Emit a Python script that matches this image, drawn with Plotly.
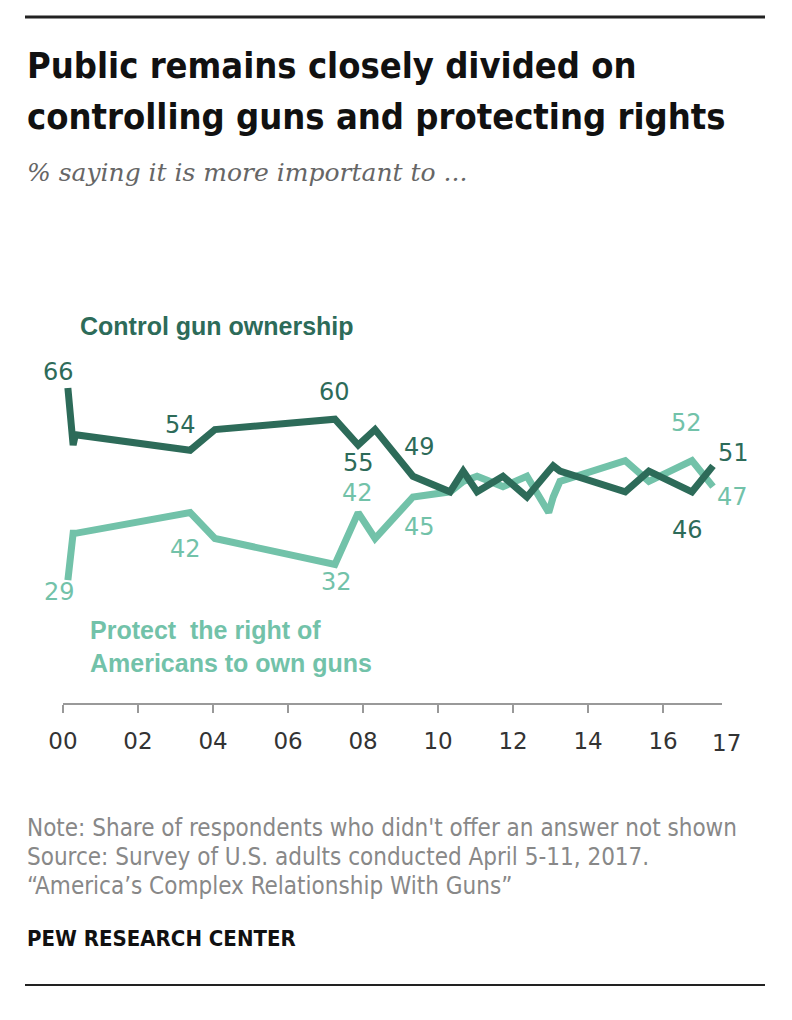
import plotly.graph_objects as go

# survey dates as years since 2000
years = [0.13, 0.27, 0.33, 3.39, 4.05, 7.25, 7.87, 8.32, 9.33, 10.32, 10.67,
         11.04, 11.73, 12.37, 12.95, 13.07, 13.25, 14.99, 15.62, 16.77, 17.33]
control = [66, 55, 57, 54, 58, 60, 55, 58, 49, 46, 50,
           46, 49, 45, 50, 51, 50, 46, 50, 46, 51]
protect = [29, 38, 38, 42, 37, 32, 42, 37, 45, 46, 48,
           49, 47, 49, 42, 45, 48, 52, 48, 52, 47]

tick_years = [0, 2, 4, 6, 8, 10, 12, 14, 16]
tick_labels = ["00", "02", "04", "06", "08", "10", "12", "14", "16"]
last_year, last_label = 17.55, "17"

# which points carry a value label
labeled = [0, 3, 5, 6, 8, 19, 20]

DARK = "#2d6b59"
LIGHT = "#72c2a9"

OFF = 8                      # page body margin
W, H = 792 - 2 * OFF, 1020 - 2 * OFF
L, R, T, B = 63, 722, 250, 703   # plot area in screen pixels


def px(x, y):
    # screen pixel position -> paper coords
    return (x - L) / (R - L), (B - y) / (B - T)


fig = go.Figure()

fig.add_trace(go.Scatter(x=years, y=protect, mode="lines",
                         line=dict(color=LIGHT, width=7), hoverinfo="skip"))
fig.add_trace(go.Scatter(x=years, y=control, mode="lines",
                         line=dict(color=DARK, width=7), hoverinfo="skip"))

annotations = []
NUMFONT = "DejaVu Sans, Verdana, sans-serif"

# value labels (offsets in pixels from the point)
dark_off = {0: (-9, 16), 3: (-10, 25), 5: (0, 27), 6: (0, -18), 8: (7, 29), 19: (-4, -38), 20: (20, 13)}
light_off = {0: (-8, -12), 3: (-5, -36), 5: (2, -18), 6: (-1, 20), 8: (7, -30), 19: (-5, 38), 20: (19, -10)}
for i in labeled:
    annotations.append(dict(x=years[i], y=control[i], xref="x", yref="y", text=str(control[i]),
                            showarrow=False, xshift=dark_off[i][0], yshift=dark_off[i][1],
                            font=dict(family=NUMFONT, size=24, color=DARK)))
    annotations.append(dict(x=years[i], y=protect[i], xref="x", yref="y", text=str(protect[i]),
                            showarrow=False, xshift=light_off[i][0], yshift=light_off[i][1],
                            font=dict(family=NUMFONT, size=24, color=LIGHT)))

# last tick label sits at the end of the axis, no tick mark
annotations.append(dict(x=last_year, y=0, xref="x", yref="paper", text=last_label, showarrow=False,
                        yanchor="top", yshift=-25, xshift=5,
                        font=dict(family=NUMFONT, size=23, color="#333")))


def text(x, y, s, size, color, family, anchor="left", yanchor="middle"):
    ax, ay = px(x, y)
    annotations.append(dict(x=ax, y=ay, xref="paper", yref="paper", text=s, showarrow=False,
                            xanchor=anchor, yanchor=yanchor, align="left",
                            font=dict(family=family, size=size, color=color)))


COND = "Liberation Sans Narrow, DejaVu Sans Condensed, Arial Narrow, sans-serif"

# series names
text(78, 326, "<b>Control gun ownership</b>", 25, DARK, "Liberation Sans, Arial")
text(88, 646, "<b>Protect  the right of<br>Americans to own guns</b>", 25, LIGHT, "Liberation Sans, Arial")

# title block
text(25, 66, "<b>Public remains closely divided on</b>", 36, "#111", COND)
text(25, 116, "<b>controlling guns and protecting rights</b>", 36, "#111", COND)
text(25, 172, "<i>% saying it is more important to ...</i>", 25, "#666", "DejaVu Serif, Georgia, serif")

# notes
text(25, 828, "Note: Share of respondents who didn't offer an answer not shown", 24, "#888", COND)
text(25, 857, "Source: Survey of U.S. adults conducted April 5-11, 2017.", 24, "#888", COND)
text(25, 886, "“America’s Complex Relationship With Guns”", 24, "#888", COND)
text(25, 938, "<b>PEW RESEARCH CENTER</b>", 22, "#111", COND)

x0, _ = px(25, 0)
x1, _ = px(765, 0)
_, ytop = px(0, 17)
_, ybot = px(0, 985)

fig.update_layout(
    width=W, height=H,
    margin=dict(l=L - OFF, r=W - (R - OFF), t=T - OFF, b=H - (B - OFF)),
    paper_bgcolor="white", plot_bgcolor="white",
    showlegend=False,
    xaxis=dict(range=[0, 17.57], tickvals=tick_years, ticktext=tick_labels,
               showgrid=False, zeroline=False, showline=True, linecolor="#999", linewidth=2,
               ticks="outside", ticklen=8, tickcolor="#999", tickwidth=2, ticklabelstandoff=8,
               tickfont=dict(family=NUMFONT, size=23, color="#333")),
    yaxis=dict(range=[5.3, 92.6], visible=False),
    annotations=annotations,
    shapes=[
        dict(type="line", xref="paper", yref="paper", x0=x0, x1=x1, y0=ytop, y1=ytop,
             line=dict(color="#222", width=3)),
        dict(type="line", xref="paper", yref="paper", x0=x0, x1=x1, y0=ybot, y1=ybot,
             line=dict(color="#222", width=2)),
    ],
)

fig.write_html("out.html")
